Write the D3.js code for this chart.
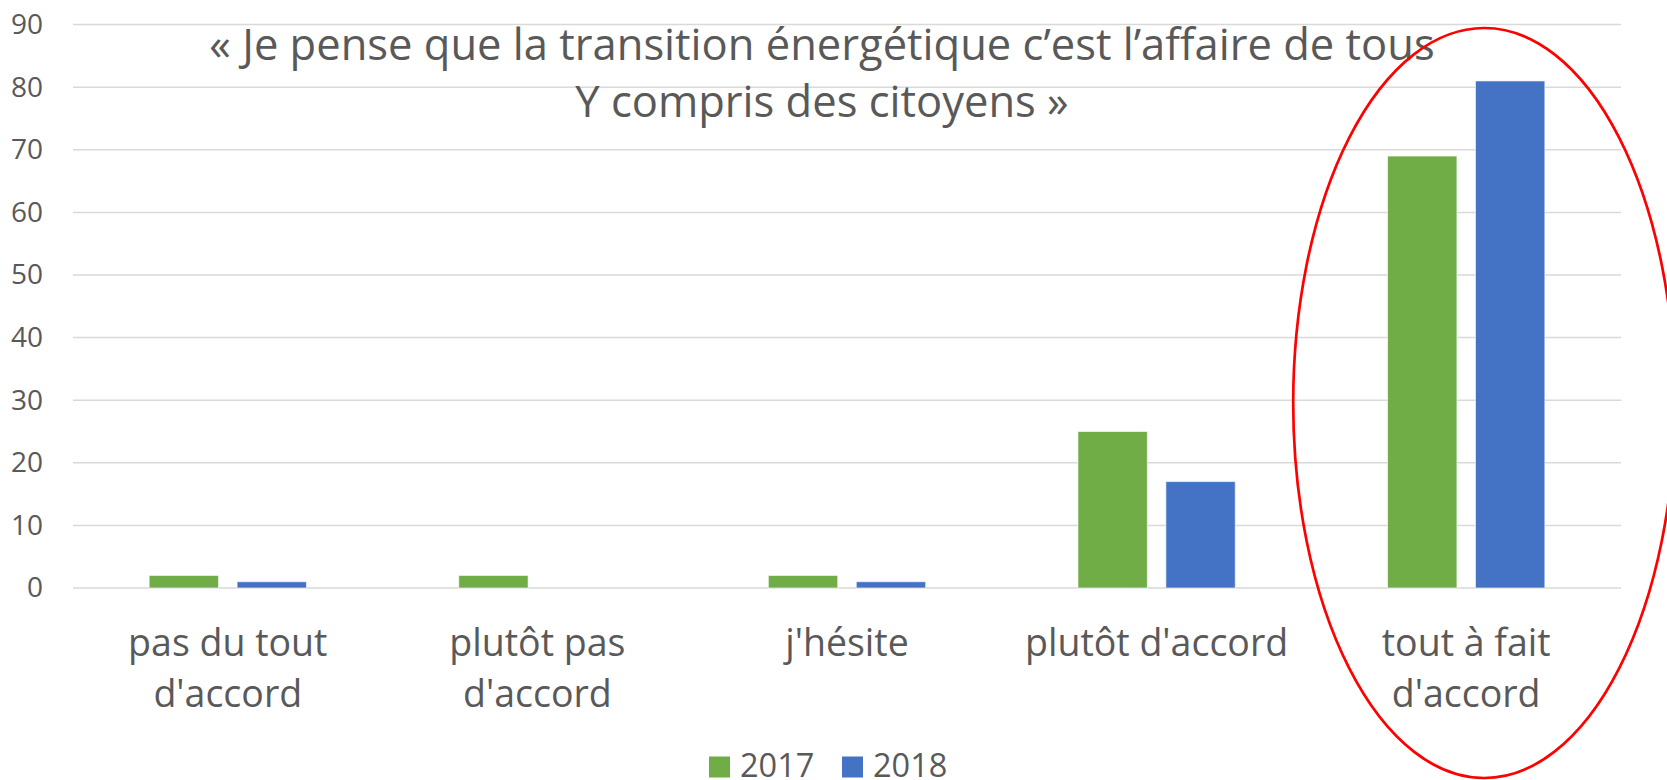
<!DOCTYPE html>
<html>
<head>
<meta charset="utf-8">
<script src="https://cdn.jsdelivr.net/npm/d3@7"></script>
<style>
  body { margin: 0; background: #fff; }
  text { font-family: "Open Sans", sans-serif; fill: #595959; }
</style>
</head>
<body>
<svg width="1667" height="780"></svg>
<script>
var categories = [["pas du tout", "d'accord"], ["plutôt pas", "d'accord"], ["j'hésite"], ["plutôt d'accord"], ["tout à fait", "d'accord"]];
var series2017 = [2, 2, 2, 25, 69];
var series2018 = [1, 0, 1, 17, 81];
var seriesNames = ["2017", "2018"];
var seriesColours = ["#70AD47", "#4472C4"];
var yTicks = [0, 10, 20, 30, 40, 50, 60, 70, 80, 90];
var titleLines = ["« Je pense que la transition énergétique c’est l’affaire de tous", "Y compris des citoyens »"];

var svg = d3.select("svg");
var plotLeft = 73, plotRight = 1621, plotTop = 24.6, plotBottom = 588;

var x0 = d3.scaleBand()
    .domain(d3.range(categories.length))
    .range([plotLeft, plotRight])
    .paddingInner(0)
    .paddingOuter(0);

// bars sit in the middle of each band, with a gap between the two
var barW = x0.bandwidth() * 0.224;
var barGap = x0.bandwidth() * 0.06;

var y = d3.scaleLinear().domain([0, 90]).range([plotBottom, plotTop]);

// gridlines
svg.append("g")
    .selectAll("line")
    .data(yTicks)
    .enter().append("line")
    .attr("x1", plotLeft)
    .attr("x2", plotRight)
    .attr("y1", function (d) { return y(d); })
    .attr("y2", function (d) { return y(d); })
    .attr("stroke", "#D9D9D9")
    .attr("stroke-width", 1.5);

// y axis labels
var yAxis = d3.axisLeft(y).tickValues(yTicks).tickSize(0).tickPadding(30);
var yg = svg.append("g").attr("transform", "translate(" + plotLeft + ",0)").call(yAxis);
yg.select(".domain").remove();
yg.selectAll("text")
    .style("font-family", "'Open Sans', sans-serif")
    .style("font-size", "28px")
    .attr("fill", "#595959");

// bars
var allSeries = [series2017, series2018];
allSeries.forEach(function (values, s) {
    svg.append("g")
        .selectAll("rect")
        .data(values)
        .enter().append("rect")
        .attr("x", function (d, i) {
            var c = x0(i) + x0.bandwidth() / 2;
            return s == 0 ? c - barGap / 2 - barW : c + barGap / 2;
        })
        .attr("y", function (d) { return y(d); })
        .attr("width", barW)
        .attr("height", function (d) { return y(0) - y(d); })
        .attr("fill", seriesColours[s])
        .attr("stroke", "#ffffff")
        .attr("stroke-opacity", 0.6)
        .attr("stroke-width", 1);
});

// category labels
var catG = svg.append("g")
    .selectAll("text")
    .data(categories)
    .enter().append("text")
    .attr("text-anchor", "middle")
    .style("font-size", "37.5px");
catG.each(function (lines, i) {
    var t = d3.select(this);
    lines.forEach(function (l, k) {
        t.append("tspan")
            .attr("x", x0(i) + x0.bandwidth() / 2)
            .attr("y", 656 + k * 50.5)
            .text(l);
    });
});

// title
svg.append("g")
    .selectAll("text")
    .data(titleLines)
    .enter().append("text")
    .attr("x", 822)
    .attr("y", function (d, i) { return 60 + i * 57; })
    .attr("text-anchor", "middle")
    .style("font-size", "43.5px")
    .text(function (d) { return d; });

// legend
var legend = svg.append("g")
    .selectAll("g")
    .data(seriesNames)
    .enter().append("g")
    .attr("transform", function (d, i) { return "translate(" + (709 + i * 133) + ",0)"; });
legend.append("rect")
    .attr("y", 756.5)
    .attr("width", 21)
    .attr("height", 21)
    .attr("fill", function (d, i) { return seriesColours[i]; });
legend.append("text")
    .attr("x", 31)
    .attr("y", 777)
    .style("font-size", "32.5px")
    .text(function (d) { return d; });

// red ellipse round the last category
var last = categories.length - 1;
svg.append("ellipse")
    .attr("cx", x0(last) + x0.bandwidth() / 2 + 18)
    .attr("cy", 403)
    .attr("rx", 191)
    .attr("ry", 375)
    .attr("fill", "none")
    .attr("stroke", "#FF0000")
    .attr("stroke-width", 2.7);
</script>
</body>
</html>
